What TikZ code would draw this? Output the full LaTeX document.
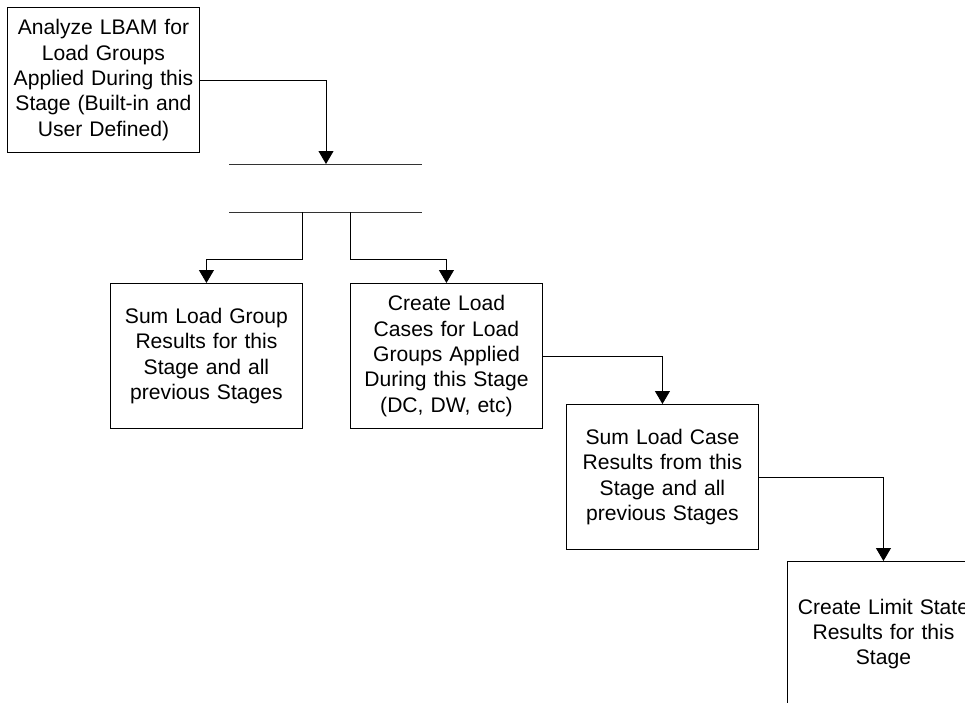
\documentclass[tikz,border=0pt]{standalone}
\usepackage{fontspec}
\setmainfont{Liberation Sans}
\usetikzlibrary{arrows.meta}
\begin{document}
\begin{tikzpicture}[x=1pt,y=-1pt,
  stepbox/.style={draw, line width=0.9pt, minimum width=192pt, minimum height=145pt,
    text width=190pt, align=center, inner sep=0pt,
    font=\fontsize{21.1}{25.3}\selectfont, anchor=north west},
  link/.style={line width=0.9pt, -{Triangle[width=15pt,length=13pt]}},
  bar/.style={line width=0.9pt, draw=black!80}]
\useasboundingbox (0,0) rectangle (965,702);
\clip (0,0) rectangle (965,702);

% process steps
\node[stepbox] (analyze) at (7,7)
  {Analyze LBAM for\\Load Groups\\Applied During this\\Stage (Built-in and\\User Defined)};
\node[stepbox] (sumgroup) at (110,283)
  {Sum Load Group\\Results for this\\Stage and all\\previous Stages};
\node[stepbox] (cases) at (350,283)
  {Create Load\\Cases for Load\\Groups Applied\\During this Stage\\(DC, DW, etc)};
\node[stepbox] (sumcase) at (566,404)
  {Sum Load Case\\Results from this\\Stage and all\\previous Stages};
\node[stepbox] (limit) at (787,561)
  {Create Limit State\\Results for this\\Stage};

% fork bars
\coordinate (b1l) at (229,164);
\coordinate (b1r) at (422,164);
\coordinate (b1in) at (326,164);
\coordinate (b2l) at (229,212);
\coordinate (b2r) at (422,212);
\coordinate (b2a) at (302,212);
\coordinate (b2b) at (350,212);
\draw[bar] (b1l) -- (b1r);
\draw[bar] (b2l) -- (b2r);

% connectors
\draw[link] (analyze.east) -| (b1in);
\draw[link] (b2a) -- ++(0,47) -| (sumgroup.north);
\draw[link] (b2b) -- ++(0,47) -| (cases.north);
\draw[link] (cases.east) -| (sumcase.north);
\draw[link] (sumcase.east) -| (limit.north);
\end{tikzpicture}
\end{document}
